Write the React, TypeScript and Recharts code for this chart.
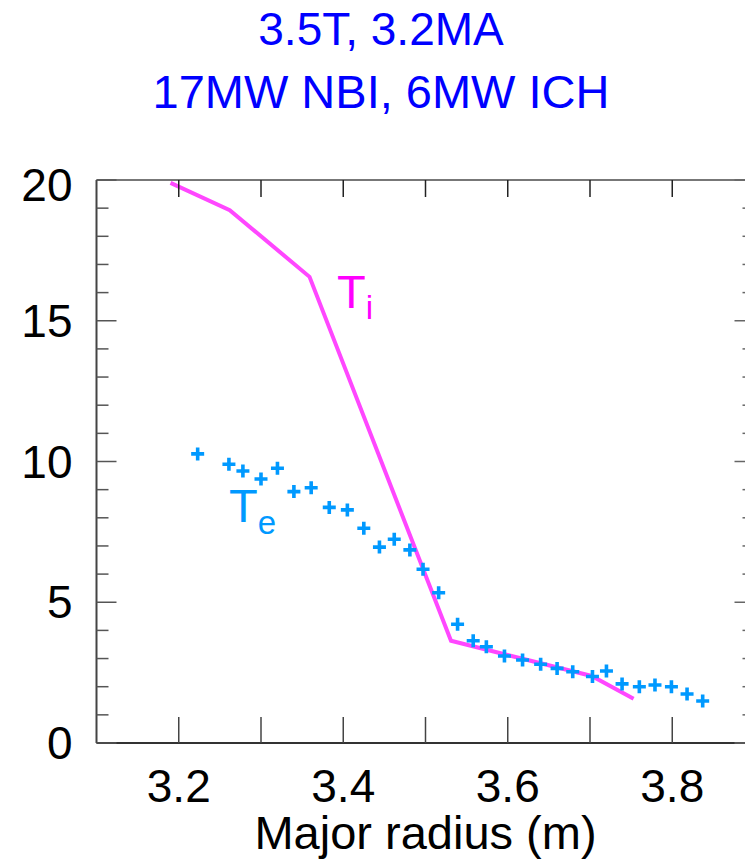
import React from 'react'
import { ComposedChart, Line, Scatter, XAxis, YAxis, Customized } from 'recharts'

// Ti profile (solid line), major radius (m) vs keV
const tiRadius = [3.19, 3.262, 3.359, 3.531, 3.702, 3.753]
const tiTemp = [19.9, 18.93, 16.56, 3.63, 2.38, 1.57]

// Te measurements (crosses)
const teRadius = [
  3.223, 3.261, 3.278, 3.3, 3.32, 3.34, 3.361, 3.383, 3.405, 3.425, 3.444,
  3.462, 3.481, 3.497, 3.516, 3.539, 3.558, 3.574, 3.596, 3.618, 3.64, 3.66,
  3.679, 3.703, 3.72, 3.739, 3.76, 3.779, 3.799, 3.818, 3.837,
]
const teTemp = [
  10.27, 9.9, 9.66, 9.38, 9.76, 8.93, 9.07, 8.37, 8.28, 7.63, 6.96,
  7.24, 6.86, 6.17, 5.34, 4.22, 3.63, 3.42, 3.09, 2.95, 2.8, 2.65,
  2.53, 2.36, 2.56, 2.1, 2.0, 2.06, 2.0, 1.74, 1.49,
]

const xTicks = [3.2, 3.3, 3.4, 3.5, 3.6, 3.7, 3.8]
const xLabels = [3.2, 3.4, 3.6, 3.8]
const yTicks = Array.from({ length: 21 }, (_, i) => i)
const yLabels = [0, 5, 10, 15, 20]

const titleLines = ['3.5T, 3.2MA', '17MW NBI, 6MW ICH']

const tiData = tiRadius.map((r, i) => ({ r, t: tiTemp[i] }))
const teData = teRadius.map((r, i) => ({ r, t: teTemp[i] }))

const FONT = '"Liberation Sans", Arial, Helvetica, sans-serif'

const BottomTick = (props: any) => {
  const { x, y, payload } = props
  const v = payload.value
  const labelled = xLabels.some((l) => Math.abs(l - v) < 1e-6)
  return (
    <g>
      <line x1={x} y1={y} x2={x} y2={y - 26} stroke="#444" strokeWidth={1.5} />
      {labelled && (
        <text x={x} y={y + 58.5} textAnchor="middle" fontSize={46} fontFamily={FONT} fill="#000">
          {v.toFixed(1)}
        </text>
      )}
    </g>
  )
}

const TopTick = (props: any) => {
  const { x, y } = props
  return <line x1={x} y1={y} x2={x} y2={y + 17} stroke="#222" strokeWidth={1.5} />
}

const LeftTick = (props: any) => {
  const { x, y, payload } = props
  const v = payload.value
  const major = yLabels.includes(v)
  return (
    <g>
      <line x1={x} y1={y} x2={x + (major ? 20 : 12)} y2={y} stroke="#555" strokeWidth={1.5} />
      {major && (
        <text
          x={x - 24}
          y={y + (v === 20 ? 5 : 0)}
          textAnchor="end"
          dominantBaseline="central"
          fontSize={46}
          fontFamily={FONT}
          fill="#000"
        >
          {v}
        </text>
      )}
    </g>
  )
}

const RightTick = (props: any) => {
  const { x, y, payload } = props
  const major = yLabels.includes(payload.value)
  return <line x1={x} y1={y} x2={x - (major ? 20 : 12)} y2={y} stroke="#666" strokeWidth={1.5} />
}

const Cross = (props: any) => {
  const { cx, cy } = props
  if (cx == null || cy == null) return null
  return (
    <path
      d={`M${cx - 6.5},${cy} h13 M${cx},${cy - 6.5} v13`}
      stroke="#0099ff"
      strokeWidth={3.6}
      fill="none"
    />
  )
}

const Labels = () => (
  <g fontFamily={FONT}>
    <text x={381} y={45} textAnchor="middle" fontSize={46} fill="#0000ff">
      {titleLines[0]}
    </text>
    <text x={381} y={108} textAnchor="middle" fontSize={47} fill="#0000ff">
      {titleLines[1]}
    </text>
    <text x={337} y={308} fontSize={47} fill="#ff00ff">
      T<tspan fontSize={33} dy={11}>i</tspan>
    </text>
    <text x={229} y={522} fontSize={47} fill="#0099ff">
      T<tspan fontSize={33} dy={12}>e</tspan>
    </text>
    <text x={425.5} y={849} textAnchor="middle" fontSize={47} fill="#000">
      Major radius (m)
    </text>
  </g>
)

export default function App() {
  return (
    <div
      style={{
        position: 'absolute',
        left: 0,
        top: 0,
        width: 745,
        height: 861,
        overflow: 'hidden',
        background: '#fff',
      }}
    >
      <ComposedChart
        width={770}
        height={861}
        margin={{ top: 179, right: 14.5, bottom: 117, left: 0 }}
      >
        <XAxis
          xAxisId="bottom"
          dataKey="r"
          type="number"
          domain={[3.1, 3.9]}
          ticks={xTicks}
          interval={0}
          height={1}
          tickSize={0}
          tickMargin={0}
          tickLine={false}
          axisLine={{ stroke: '#333', strokeWidth: 2 }}
          tick={<BottomTick />}
          allowDataOverflow
        />
        <XAxis
          xAxisId="top"
          orientation="top"
          dataKey="r"
          type="number"
          domain={[3.1, 3.9]}
          ticks={xTicks}
          interval={0}
          height={1}
          tickSize={0}
          tickMargin={0}
          tickLine={false}
          axisLine={{ stroke: '#777', strokeWidth: 2 }}
          tick={<TopTick />}
          allowDataOverflow
        />
        <YAxis
          yAxisId="left"
          type="number"
          domain={[0, 20]}
          ticks={yTicks}
          interval={0}
          width={96.5}
          tickSize={0}
          tickMargin={0}
          tickLine={false}
          axisLine={{ stroke: '#444', strokeWidth: 2 }}
          tick={<LeftTick />}
          allowDataOverflow
        />
        <YAxis
          yAxisId="right"
          orientation="right"
          type="number"
          domain={[0, 20]}
          ticks={yTicks}
          interval={0}
          width={1}
          tickSize={0}
          tickMargin={0}
          tickLine={false}
          axisLine={{ stroke: '#777', strokeWidth: 2 }}
          tick={<RightTick />}
          allowDataOverflow
        />
        <Line
          xAxisId="bottom"
          yAxisId="left"
          data={tiData}
          dataKey="t"
          type="linear"
          stroke="#ff47ff"
          strokeWidth={4}
          dot={false}
          activeDot={false}
          isAnimationActive={false}
        />
        <Scatter
          xAxisId="bottom"
          yAxisId="left"
          data={teData}
          dataKey="t"
          shape={<Cross />}
          isAnimationActive={false}
        />
        <Customized component={<Labels />} />
      </ComposedChart>
    </div>
  )
}
